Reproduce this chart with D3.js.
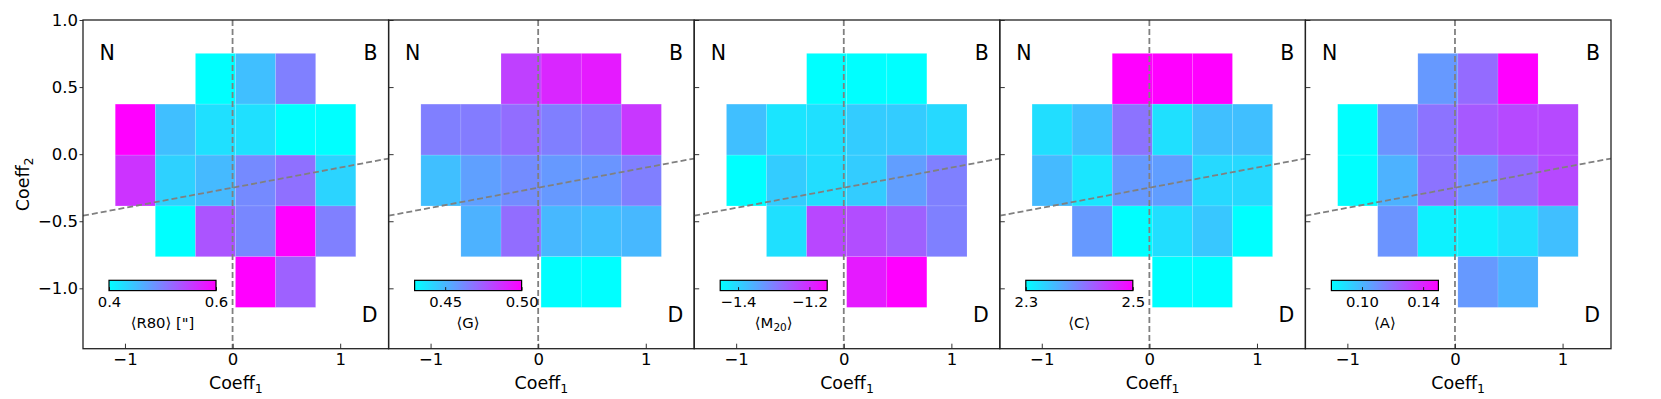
<!DOCTYPE html>
<html>
<head>
<meta charset="utf-8">
<script src="https://cdn.jsdelivr.net/npm/d3@7"></script>
<style>
  body { margin: 0; background: #fff; }
  text { font-family: "DejaVu Sans", sans-serif; fill: #000; }
</style>
</head>
<body>
<div id="chart"></div>
<script>
// bin edges of the grid (same for every panel)
var xEdges = [-1.09, -0.718, -0.345, 0.027, 0.400, 0.772, 1.145];
var yEdges = [0.751, 0.373, -0.007, -0.386, -0.764, -1.142];

// mean values per cell, rows top -> bottom, null = empty bin
var r80Values = [
  [null, null, 0.40, 0.45, 0.50, null],
  [0.60, 0.45, 0.424, 0.424, 0.40, 0.40],
  [0.56, 0.436, 0.454, 0.492, 0.512, 0.434],
  [null, 0.40, 0.534, 0.494, 0.60, 0.50],
  [null, null, null, 0.60, 0.524, null]
];
var giniValues = [
  [null, null, 0.4825, 0.4895, 0.493, null],
  [0.465, 0.466, 0.470, 0.465, 0.468, 0.485],
  [0.4475, 0.456, 0.4615, 0.458, 0.459, 0.465],
  [null, 0.451, 0.470, 0.4496, 0.4475, 0.4496],
  [null, null, null, 0.43, 0.43, null]
];
var m20Values = [
  [null, null, -1.45, -1.45, -1.45, null],
  [-1.375, -1.42, -1.414, -1.39, -1.39, -1.405],
  [-1.45, -1.39, -1.41, -1.39, -1.336, -1.30],
  [null, -1.414, -1.234, -1.24, -1.264, -1.30],
  [null, null, null, -1.18, -1.15, null]
];
var concValues = [
  [null, null, 2.5, 2.5, 2.5, null],
  [2.326, 2.35, 2.41, 2.324, 2.35, 2.35],
  [2.354, 2.32, 2.38, 2.376, 2.33, 2.33],
  [null, 2.38, 2.30, 2.326, 2.344, 2.30],
  [null, null, null, 2.30, 2.30, null]
];
var asymValues = [
  [null, null, 0.108, 0.1206, 0.15, null],
  [0.08, 0.1094, 0.1185, 0.1255, 0.130, 0.130],
  [0.08, 0.101, 0.1185, 0.1094, 0.12, 0.130],
  [null, 0.1094, 0.0835, 0.0835, 0.0884, 0.0975],
  [null, null, null, 0.108, 0.101, null]
];

// colour ranges and colorbar ticks
var cbDomains = [[0.4, 0.6], [0.43, 0.50], [-1.45, -1.15], [2.3, 2.5], [0.08, 0.15]];
var cbTicks = [[0.4, 0.6], [0.45, 0.50], [-1.4, -1.2], [2.3, 2.5], [0.10, 0.14]];
var cbFormats = [".1f", ".2f", ".1f", ".1f", ".2f"];
var cbLabels = [
  [["⟨R80⟩ [\"]", false]],
  [["⟨G⟩", false]],
  [["⟨M", false], ["20", true], ["⟩", false]],
  [["⟨C⟩", false]],
  [["⟨A⟩", false]]
];
var panelValues = [r80Values, giniValues, m20Values, concValues, asymValues];

var xTicks = [-1, 0, 1];
var yTicks = [1.0, 0.5, 0.0, -0.5, -1.0];
var lineSlope = 0.15, lineIntercept = -0.25;

// layout
var svgWidth = 1661, svgHeight = 399;
var margin = {top: 20, left: 83};
var panelW = 305.6, panelH = 328.7;

var svg = d3.select("#chart").append("svg")
  .attr("width", svgWidth)
  .attr("height", svgHeight);

var defs = svg.append("defs");

var xScale = d3.scaleLinear().domain([-1.39, 1.45]).range([0, panelW]);
var yScale = d3.scaleLinear().domain([-1.45, 1.0]).range([panelH, 0]);

panelValues.forEach(function(values, p) {
  var g = svg.append("g")
    .attr("transform", `translate(${margin.left + p * panelW}, ${margin.top})`);

  var color = d3.scaleLinear()
    .domain(cbDomains[p])
    .range(["#00ffff", "#ff00ff"])
    .clamp(true);

  defs.append("clipPath").attr("id", "clip" + p)
    .append("rect").attr("width", panelW).attr("height", panelH);

  // cells
  var cells = [];
  values.forEach(function(row, r) {
    row.forEach(function(v, c) {
      if (v !== null) cells.push({r: r, c: c, v: v});
    });
  });
  g.selectAll("rect.cell")
    .data(cells)
    .enter()
    .append("rect")
    .attr("class", "cell")
    .attr("x", d => xScale(xEdges[d.c]))
    .attr("y", d => yScale(yEdges[d.r]))
    .attr("width", d => xScale(xEdges[d.c + 1]) - xScale(xEdges[d.c]))
    .attr("height", d => yScale(yEdges[d.r + 1]) - yScale(yEdges[d.r]))
    .attr("fill", d => color(d.v))
    .attr("stroke", "#fff")
    .attr("stroke-opacity", 0.18)
    .attr("stroke-width", 0.6);

  // dashed guide lines
  var lines = g.append("g").attr("clip-path", `url(#clip${p})`);
  lines.append("line")
    .attr("x1", xScale(0)).attr("x2", xScale(0))
    .attr("y1", 0).attr("y2", panelH)
    .attr("stroke", "#808080").attr("stroke-width", 1.8)
    .attr("stroke-dasharray", "6,3");
  var xd = xScale.domain();
  lines.append("line")
    .attr("x1", xScale(xd[0])).attr("y1", yScale(lineIntercept + lineSlope * xd[0]))
    .attr("x2", xScale(xd[1])).attr("y2", yScale(lineIntercept + lineSlope * xd[1]))
    .attr("stroke", "#808080").attr("stroke-width", 1.8)
    .attr("stroke-dasharray", "6,3");

  // x axis, ticks inward
  var xAxis = g.append("g")
    .attr("transform", `translate(0, ${panelH})`)
    .call(d3.axisBottom(xScale).tickValues(xTicks).tickFormat(d3.format("d"))
      .tickSizeInner(-5).tickSizeOuter(0).tickPadding(5));
  xAxis.select(".domain").remove();
  xAxis.selectAll("text").style("font-size", "16.5px").attr("fill", "#000");
  xAxis.selectAll("line").attr("stroke", "#333");

  // y axis: labels only on first panel
  var yAxis;
  if (p === 0) {
    yAxis = g.append("g")
      .call(d3.axisLeft(yScale).tickValues(yTicks).tickFormat(d3.format(".1f"))
        .tickSizeInner(3.5).tickSizeOuter(0).tickPadding(1.5));
    yAxis.selectAll("text").style("font-size", "16.5px").attr("fill", "#000");
  } else {
    yAxis = g.append("g")
      .call(d3.axisLeft(yScale).tickValues(yTicks).tickFormat("")
        .tickSizeInner(-5).tickSizeOuter(0));
  }
  yAxis.select(".domain").remove();
  yAxis.selectAll("line").attr("stroke", "#333");

  // frame
  g.append("rect")
    .attr("width", panelW).attr("height", panelH)
    .attr("fill", "none").attr("stroke", "#222").attr("stroke-width", 1.3);

  // region letters
  g.append("text").attr("x", 16.5).attr("y", 40).style("font-size", "20.5px").text("N");
  g.append("text").attr("x", panelW - 11).attr("y", 40).attr("text-anchor", "end")
    .style("font-size", "20.5px").text("B");
  g.append("text").attr("x", panelW - 11).attr("y", 302).attr("text-anchor", "end")
    .style("font-size", "20.5px").text("D");

  // x label
  var xl = g.append("text")
    .attr("x", panelW / 2).attr("y", 369)
    .attr("text-anchor", "middle")
    .style("font-size", "17.5px");
  xl.append("tspan").text("Coeff");
  xl.append("tspan").attr("dy", 4).style("font-size", "12.5px").text("1");

  // colorbar
  var cbX = 26, cbY = 260.3, cbW = 107, cbH = 10.3;
  var grad = defs.append("linearGradient").attr("id", "grad" + p);
  grad.append("stop").attr("offset", "0%").attr("stop-color", "#00ffff");
  grad.append("stop").attr("offset", "100%").attr("stop-color", "#ff00ff");
  var cbScale = d3.scaleLinear().domain(cbDomains[p]).range([cbX, cbX + cbW]);
  var cb = g.append("g");
  cb.append("rect")
    .attr("x", cbX).attr("y", cbY).attr("width", cbW).attr("height", cbH)
    .attr("fill", `url(#grad${p})`);
  var cbAxis = cb.append("g")
    .attr("transform", `translate(0, ${cbY + cbH})`)
    .call(d3.axisBottom(cbScale).tickValues(cbTicks[p]).tickFormat(d3.format(cbFormats[p]))
      .tickSizeInner(-3.5).tickSizeOuter(0).tickPadding(6));
  cbAxis.select(".domain").remove();
  cbAxis.selectAll("text").style("font-size", "14.8px").attr("fill", "#000");
  cbAxis.selectAll("line").attr("stroke", "#222");
  cb.append("rect")
    .attr("x", cbX).attr("y", cbY).attr("width", cbW).attr("height", cbH)
    .attr("fill", "none").attr("stroke", "#000").attr("stroke-width", 1.2);

  var cl = cb.append("text")
    .attr("x", cbX + cbW / 2).attr("y", 307.5)
    .attr("text-anchor", "middle")
    .style("font-size", "14.8px");
  cbLabels[p].forEach(function(part) {
    if (part[1]) {
      cl.append("tspan").attr("dy", 3).style("font-size", "10.5px").text(part[0]);
    } else {
      var t = cl.append("tspan").text(part[0]);
      if (cl.selectAll("tspan").size() > 1) t.attr("dy", -3);
    }
  });
});

// y label
var yl = svg.append("text")
  .attr("transform", `translate(29, ${margin.top + panelH / 2}) rotate(-90)`)
  .attr("text-anchor", "middle")
  .style("font-size", "17.5px");
yl.append("tspan").text("Coeff");
yl.append("tspan").attr("dy", 4).style("font-size", "12.5px").text("2");
</script>
</body>
</html>
